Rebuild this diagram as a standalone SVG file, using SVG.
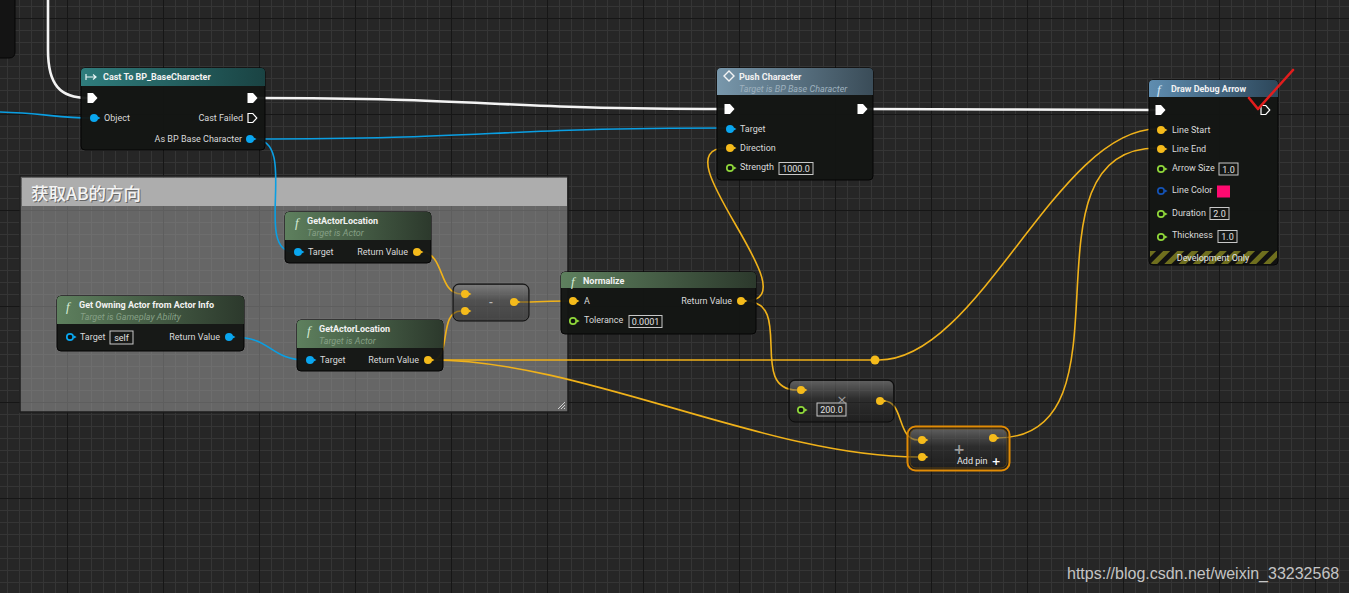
<svg xmlns="http://www.w3.org/2000/svg" width="1349" height="593" viewBox="0 0 1349 593">
<defs>
<style>
.lbl{font-family:Roboto,'Liberation Sans',sans-serif;font-size:9px;fill:#dadada}
.ttl{font-family:Roboto,'Liberation Sans',sans-serif;font-size:9px;font-weight:bold;fill:#f2f2f2}
.sub{font-family:Roboto,'Liberation Sans',sans-serif;font-size:9px;font-style:italic}
.fic{font-family:'Liberation Serif','DejaVu Serif',serif;font-style:italic;font-size:13px;fill:#d6ecd6}
.box{fill:none;stroke:#c8c8c8;stroke-width:1}
.val{font-family:Roboto,'Liberation Sans',sans-serif;font-size:9px;fill:#e0e0e0;text-anchor:middle}
.body{fill:#131513;fill-opacity:0.95;stroke:#050505;stroke-width:1}
.cpt{fill:#181818;fill-opacity:0.42;stroke:#0a0a0a;stroke-width:1}
.wy{fill:none;stroke:#f0b21a;stroke-width:1.6}
.wb{fill:none;stroke:#0a9fe3;stroke-width:1.6}
.ww{fill:none;stroke:#f4f4f4;stroke-width:2.6}
.ctitle{font-family:'Noto Sans CJK SC','Noto Sans',sans-serif;font-size:17.5px;font-weight:500}
</style>
<pattern id="minor" width="12" height="12" patternUnits="userSpaceOnUse" x="7" y="6">
<rect width="12" height="12" fill="#262626"/>
<path d="M0.5,0 V12 M0,0.5 H12" stroke="#353535" stroke-width="1"/>
</pattern>
<pattern id="major" width="96" height="96" patternUnits="userSpaceOnUse" x="67" y="18">
<path d="M0.5,0 V96 M0,0.5 H96" stroke="#161616" stroke-width="1"/>
</pattern>
<pattern id="stripe" width="10" height="10" patternUnits="userSpaceOnUse" patternTransform="rotate(45)">
<rect width="10" height="10" fill="#111"/>
<rect width="5" height="10" fill="#6f6f1e"/>
</pattern>
<linearGradient id="gTeal" x1="0" y1="0" x2="1" y2="0"><stop offset="0" stop-color="#2f7d7d"/><stop offset="1" stop-color="#1a4343"/></linearGradient>
<linearGradient id="gPush" x1="0" y1="0" x2="1" y2="0"><stop offset="0" stop-color="#7897ab"/><stop offset="1" stop-color="#3a4c58"/></linearGradient>
<linearGradient id="gFunc" x1="0" y1="0" x2="1" y2="0"><stop offset="0" stop-color="#5e805e"/><stop offset="1" stop-color="#2c392c"/></linearGradient>
<linearGradient id="gDraw" x1="0" y1="0" x2="1" y2="0"><stop offset="0" stop-color="#5f8db0"/><stop offset="1" stop-color="#2d475a"/></linearGradient>
<linearGradient id="gShine" x1="0" y1="0" x2="0" y2="1"><stop offset="0" stop-color="#fff" stop-opacity="0.28"/><stop offset="0.45" stop-color="#fff" stop-opacity="0.06"/><stop offset="1" stop-color="#fff" stop-opacity="0"/></linearGradient>
<g id="pY"><circle r="4" fill="#f5bb1b"/><path d="M3.4,-1.8 L6.4,0 L3.4,1.8Z" fill="#f5bb1b"/></g>
<g id="pB"><circle r="4" fill="#0aa6ef"/><path d="M3.4,-1.8 L6.4,0 L3.4,1.8Z" fill="#0aa6ef"/></g>
<g id="pG"><circle r="3.2" fill="#0f120f" stroke="#8fd63a" stroke-width="1.7"/><path d="M4,-1.6 L6.6,0 L4,1.6Z" fill="#8fd63a"/></g>
<g id="pBo"><circle r="3.2" fill="#0f120f" stroke="#0aa6ef" stroke-width="1.7"/><path d="M4,-1.6 L6.6,0 L4,1.6Z" fill="#0aa6ef"/></g>
<g id="pDB"><circle r="3.2" fill="#0f120f" stroke="#1452b4" stroke-width="1.7"/><path d="M4,-1.6 L6.6,0 L4,1.6Z" fill="#1452b4"/></g>
<path id="ex" d="M-4.5,-5 L1,-5 L5.5,0 L1,5 L-4.5,5Z" fill="#ffffff"/>
<path id="exo" d="M-4,-4.5 L0.8,-4.5 L4.8,0 L0.8,4.5 L-4,4.5Z" fill="none" stroke="#ffffff" stroke-width="1.2"/>
</defs>

<rect width="1349" height="593" fill="url(#minor)"/>
<rect width="1349" height="593" fill="url(#major)"/>

<!-- partial node top-left -->
<g id="node-offscreen">
<path d="M-5,-5 H15 V52 Q15,58 9,58 H-5Z" fill="#141414" stroke="#050505"/>
</g>

<!-- comment box -->
<g id="comment">
<rect x="20" y="176" width="548" height="236" fill="#9a9a9a" fill-opacity="0.55" stroke="#1c1c1c" stroke-width="1.5"/>
<rect x="22" y="178" width="545" height="28" fill="#adadad"/>
<text class="ctitle" x="32" y="201" style="fill:#222" opacity="0.5">获取AB的方向</text>
<text class="ctitle" x="31" y="200" style="fill:#f4f4f4">获取AB的方向</text>
<path d="M558,409 L565,402 M561,409 L565,405 M564,409 L565,408" stroke="#d0d0d0" stroke-width="1"/>
</g>

<g id="connectors">
<!-- exec -->
<path class="ww" d="M48,0 L48,50 C48,85 60,98 88,98"/>
<path class="ww" d="M256,98 C490,98 490,109 725,109"/>
<path class="ww" d="M866,109 C1000,109 1010,110 1156,110"/>
<!-- object -->
<path class="wb" d="M0,112 C40,113 60,118 90,118"/>
<path class="wb" d="M254,139 C490,139 490,128 726,128"/>
<path class="wb" d="M254,139 C300,139 252,252 294,252"/>
<path class="wb" d="M233,337 C272,337 270,360 306,360"/>
<!-- vectors -->
<path class="wy" d="M421,252 C445,252 438,294 461,294"/>
<path class="wy" d="M432,360 C452,360 438,311 461,311"/>
<path class="wy" d="M518,302 C540,302 548,301 569,301"/>
<path class="wy" d="M745,301 C815,301 656,148 726,148"/>
<path class="wy" d="M745,301 C795,301 747,390 797,390"/>
<path class="wy" d="M432,360 L875,360"/>
<path class="wy" d="M879,360 C979,360 1057,129 1157,129"/>
<path class="wy" d="M432,360 C582,360 767,457 918,457"/>
<path class="wy" d="M884,401 C904,401 897,440 918,440"/>
<path class="wy" d="M997,438 C1142,438 1012,148 1157,148"/>
<circle cx="875" cy="360" r="4.5" fill="#f5bb1b"/>
</g>

<g id="node-cast">
<rect class="body" x="81" y="68" width="184" height="82" rx="4"/>
<path d="M81,86 V72 Q81,68 85,68 H261 Q265,68 265,72 V86Z" fill="url(#gTeal)"/>
<path d="M86,74 V80 M86,77 H96 M93,74.5 L96,77 L93,79.5" fill="none" stroke="#e8f4f4" stroke-width="1.2"/>
<text class="ttl" x="103" y="80">Cast To BP_BaseCharacter</text>
<use href="#ex" x="92" y="98"/>
<use href="#ex" x="252" y="98"/>
<use href="#pB" x="94" y="118"/>
<text class="lbl" x="104" y="121">Object</text>
<text class="lbl" x="243" y="121" text-anchor="end">Cast Failed</text>
<use href="#exo" x="252" y="118"/>
<text class="lbl" x="242" y="142" text-anchor="end">As BP Base Character</text>
<use href="#pB" x="250" y="139"/>
</g>

<g id="node-push">
<rect class="body" x="717" y="68" width="156" height="112" rx="4"/>
<path d="M717,95 V72 Q717,68 721,68 H869 Q873,68 873,72 V95Z" fill="url(#gPush)"/>
<path d="M729,71 L734,76 L729,81 L724,76Z" fill="none" stroke="#f4f4f4" stroke-width="1.4"/>
<text class="ttl" x="739" y="80">Push Character</text>
<text class="sub" x="739" y="92" fill="#9fb2bf">Target is BP Base Character</text>
<use href="#ex" x="729" y="109"/>
<use href="#ex" x="862" y="109"/>
<use href="#pB" x="730" y="129"/>
<text class="lbl" x="740" y="132">Target</text>
<use href="#pY" x="730" y="148"/>
<text class="lbl" x="740" y="151">Direction</text>
<use href="#pG" x="730" y="168"/>
<text class="lbl" x="740" y="170">Strength</text>
<rect class="box" x="779" y="162.5" width="34" height="12"/>
<text class="val" x="796" y="172">1000.0</text>
</g>

<g id="node-draw-debug-arrow">
<rect class="body" x="1149" y="80" width="129" height="185" rx="4"/>
<path d="M1149,97 V84 Q1149,80 1153,80 H1274 Q1278,80 1278,84 V97Z" fill="url(#gDraw)"/>
<text class="fic" x="1157" y="94" style="fill:#d8e8f6">f</text>
<text class="ttl" x="1171" y="92">Draw Debug Arrow</text>
<use href="#ex" x="1160" y="110"/>
<use href="#exo" x="1265" y="110"/>
<use href="#pY" x="1161" y="130"/>
<text class="lbl" x="1172" y="133">Line Start</text>
<use href="#pY" x="1161" y="149"/>
<text class="lbl" x="1172" y="152">Line End</text>
<use href="#pG" x="1161" y="169"/>
<text class="lbl" x="1172" y="171">Arrow Size</text>
<rect class="box" x="1219" y="163" width="19" height="12"/>
<text class="val" x="1228.5" y="172.5">1.0</text>
<use href="#pDB" x="1161" y="191"/>
<text class="lbl" x="1172" y="193">Line Color</text>
<rect x="1217" y="185.5" width="13" height="12" fill="#ff0a70"/>
<use href="#pG" x="1161" y="214"/>
<text class="lbl" x="1172" y="216">Duration</text>
<rect class="box" x="1210" y="207.5" width="19" height="12"/>
<text class="val" x="1219.5" y="217">2.0</text>
<use href="#pG" x="1161" y="237"/>
<text class="lbl" x="1172" y="238">Thickness</text>
<rect class="box" x="1218" y="230.5" width="19" height="12"/>
<text class="val" x="1227.5" y="240">1.0</text>
<path d="M1150,251 H1277 V261 Q1277,264 1274,264 H1153 Q1150,264 1150,261Z" fill="url(#stripe)"/>
<text class="lbl" x="1213" y="261" text-anchor="middle" style="fill:#e4e4e4">Development Only</text>
</g>

<g id="node-get-actor-location-1">
<rect class="body" x="285" y="212" width="146" height="51" rx="4"/>
<path d="M285,240 V216 Q285,212 289,212 H427 Q431,212 431,216 V240Z" fill="url(#gFunc)"/>
<text class="fic" x="295" y="227">f</text>
<text class="ttl" x="307" y="224">GetActorLocation</text>
<text class="sub" x="307" y="236" fill="#86a086">Target is Actor</text>
<use href="#pB" x="298" y="252"/>
<text class="lbl" x="308" y="255">Target</text>
<text class="lbl" x="408" y="255" text-anchor="end">Return Value</text>
<use href="#pY" x="417" y="252"/>
</g>

<g id="node-get-owning-actor">
<rect class="body" x="57" y="296" width="187" height="55" rx="4"/>
<path d="M57,324 V300 Q57,296 61,296 H240 Q244,296 244,300 V324Z" fill="url(#gFunc)"/>
<text class="fic" x="66" y="311">f</text>
<text class="ttl" x="79" y="308">Get Owning Actor from Actor Info</text>
<text class="sub" x="80" y="320" fill="#86a086">Target is Gameplay Ability</text>
<use href="#pBo" x="70" y="337"/>
<text class="lbl" x="80" y="340">Target</text>
<rect class="box" x="110" y="331" width="23" height="13"/>
<text class="val" x="121.5" y="341">self</text>
<text class="lbl" x="220" y="340" text-anchor="end">Return Value</text>
<use href="#pB" x="229" y="337"/>
</g>

<g id="node-get-actor-location-2">
<rect class="body" x="297" y="320" width="146" height="51" rx="4"/>
<path d="M297,348 V324 Q297,320 301,320 H439 Q443,320 443,324 V348Z" fill="url(#gFunc)"/>
<text class="fic" x="307" y="335">f</text>
<text class="ttl" x="319" y="332">GetActorLocation</text>
<text class="sub" x="319" y="344" fill="#86a086">Target is Actor</text>
<use href="#pB" x="310" y="360"/>
<text class="lbl" x="320" y="363">Target</text>
<text class="lbl" x="419" y="363" text-anchor="end">Return Value</text>
<use href="#pY" x="428" y="360"/>
</g>

<g id="node-subtract">
<rect class="cpt" x="453" y="284" width="76" height="37" rx="6"/>
<rect x="454" y="285" width="74" height="35" rx="5" fill="url(#gShine)"/>
<use href="#pY" x="465" y="294"/>
<use href="#pY" x="465" y="311"/>
<use href="#pY" x="514" y="302"/>
<text x="491" y="306" text-anchor="middle" style="font-family:Roboto,'Liberation Sans',sans-serif;font-size:11px;font-weight:bold;fill:#b8b8b8">-</text>
</g>

<g id="node-normalize">
<rect class="body" x="561" y="272" width="195" height="62" rx="4"/>
<path d="M561,288 V276 Q561,272 565,272 H752 Q756,272 756,276 V288Z" fill="url(#gFunc)"/>
<text class="fic" x="571" y="286">f</text>
<text class="ttl" x="583" y="284">Normalize</text>
<use href="#pY" x="573" y="301"/>
<text class="lbl" x="584" y="304">A</text>
<text class="lbl" x="732" y="304" text-anchor="end">Return Value</text>
<use href="#pY" x="741" y="301"/>
<use href="#pG" x="573" y="321"/>
<text class="lbl" x="584" y="323">Tolerance</text>
<rect class="box" x="629" y="315.5" width="33" height="12"/>
<text class="val" x="645.5" y="325">0.0001</text>
</g>

<g id="node-multiply">
<rect class="cpt" x="789" y="380" width="105" height="42" rx="6"/>
<rect x="790" y="381" width="103" height="40" rx="5" fill="url(#gShine)"/>
<use href="#pY" x="801" y="390"/>
<use href="#pG" x="801" y="410"/>
<rect class="box" x="817" y="403" width="29" height="13"/>
<text class="val" x="831.5" y="413">200.0</text>
<text x="842" y="404" text-anchor="middle" style="font-family:'DejaVu Sans',sans-serif;font-size:13px;fill:#9a9a9a">×</text>
<use href="#pY" x="880" y="401"/>
</g>

<g id="node-add">
<rect x="907.5" y="426.5" width="102" height="44" rx="8" fill="#181818" fill-opacity="0.5" stroke="#e28c05" stroke-width="2"/>
<rect x="910" y="429" width="97" height="39" rx="6" fill="url(#gShine)" stroke="#6a4a10" stroke-width="0.8"/>
<use href="#pY" x="922" y="440"/>
<use href="#pY" x="922" y="457"/>
<use href="#pY" x="993" y="438"/>
<text x="959" y="454" text-anchor="middle" style="font-family:'DejaVu Sans',sans-serif;font-size:14px;font-weight:bold;fill:#9a9a9a">+</text>
<text class="lbl" x="957" y="464" style="fill:#e6e6e6">Add pin</text>
<text x="996" y="465" text-anchor="middle" style="font-family:'DejaVu Sans',sans-serif;font-size:11px;font-weight:bold;fill:#ffffff">+</text>
</g>

<g id="annotation">
<path d="M1249,98 L1258,109 L1293,70" fill="none" stroke="#e21d1d" stroke-width="2.6" stroke-linecap="round" stroke-linejoin="round"/>
</g>

<text x="1067" y="579" style="font-family:'Liberation Sans',Arial,sans-serif;font-size:16px;fill:#c4c4c4">https://blog.csdn.net/weixin_33232568</text>
</svg>
